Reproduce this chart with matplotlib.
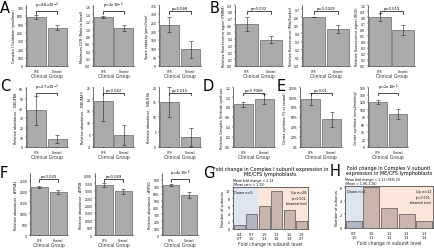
import matplotlib.pyplot as plt
import numpy as np

groups = ["CFS", "Control"]

# panel A
a1_mean = [585, 460]; a1_err = [25, 35]
a2_mean = [1.32, 1.02]; a2_err = [0.03, 0.08]
a3_mean = [237, 97]; a3_err = [42, 49]
# panel B
b1_mean = [0.62, 0.39]; b1_err = [0.10, 0.05]
b2_mean = [0.60, 0.46]; b2_err = [0.0, 0.05]
b3_mean = [0.80, 0.59]; b3_err = [0.07, 0.08]
# panel C
c1_mean = [38, 8]; c1_err = [15, 4]
c2_mean = [19, 5]; c2_err = [8, 4]
c3_mean = [15, 3.5]; c3_err = [5, 3]
# panel D
d1_mean = [0.86, 0.96]; d1_err = [0.05, 0.10]
# panel E
e1_mean = [96, 56]; e1_err = [12, 15]
e2_mean = [120, 88]; e2_err = [6, 13]
# panel F
f1_mean = [2215, 1985]; f1_err = [60, 80]
f2_mean = [3400, 2950]; f2_err = [150, 150]
f3_mean = [725, 578]; f3_err = [10, 40]

# panel G / H histograms
g_counts = [1, 4, 6, 10, 5, 2]
g_labels = ["0.4\n0.7", "0.7\n1.0", "1.0\n1.3", "1.3\n1.6", "1.6\n1.9", "1.9\n2.7"]
h_counts = [1, 6, 3, 2, 1]
h_labels = ["0.9\n1.0", "1.0\n1.1", "1.1\n1.2", "1.2\n1.3", "1.3\n1.4"]

W, H = 435, 253
fig = plt.figure(figsize=(W / 100, H / 100), dpi=100)

def box(x0, x1, y0, y1):
    return [x0 / W, 1 - y1 / H, (x1 - x0) / W, (y1 - y0) / H]

def bar_panel(rect, mean, err, ymax, ticks, ylabel, ptext, fmt=None):
    ax = fig.add_axes(rect)
    ax.bar([0, 1], mean, width=0.94, color="#ababab", edgecolor="#666666", linewidth=0.5)
    ax.errorbar([0, 1], mean, yerr=err, fmt="none", ecolor="#222222", elinewidth=0.4, capsize=1.2, capthick=0.4)
    ax.set_xlim(-0.5, 1.5)
    ax.set_ylim(0, ymax)
    ax.set_yticks(ticks)
    if fmt:
        ax.set_yticklabels([fmt(t) for t in ticks])
    ax.set_xticks([0, 1])
    ax.set_xticklabels(groups)
    ax.tick_params(labelsize=2.2, length=1, width=0.3, pad=1)
    for s in ["top", "right"]:
        ax.spines[s].set_visible(False)
    for s in ["left", "bottom"]:
        ax.spines[s].set_linewidth(0.4)
    ax.set_ylabel(ylabel, fontsize=2.4, labelpad=1)
    ax.set_xlabel("Clinical Group", fontsize=3.3, labelpad=0.5, color="#333333")
    yb = ymax * 0.9
    ax.plot([0, 0, 1, 1], [yb - ymax * 0.04, yb, yb, yb - ymax * 0.04], color="k", lw=0.5)
    ax.text(0.5, yb + ymax * 0.02, ptext, ha="center", va="bottom", fontsize=2.7)
    return ax

pct = lambda t: f"{int(t)}%"

# row 1
bar_panel(box(26, 68, 6, 67), a1_mean, a1_err, 730, range(0, 701, 100),
          "Complex I Oxidation (pmol/min)", "p=4.8x10$^{-4}$")
bar_panel(box(93, 134, 6, 67), a2_mean, a2_err, 1.65, np.arange(0, 1.61, 0.2).round(1),
          "Maximum OCR (Ratio to basal)", "p=2x10$^{-5}$")
bar_panel(box(159, 201, 6, 67), a3_mean, a3_err, 350, range(0, 351, 50),
          "Spare capacity (pmol/min)", "p=0.048")
bar_panel(box(235, 283, 6, 67), b1_mean, b1_err, 0.9, np.arange(0, 0.91, 0.1).round(1),
          "Relative fluorescence signal (TMRM)", "p=0.002")
bar_panel(box(302, 350, 6, 67), b2_mean, b2_err, 0.75, np.arange(0, 0.71, 0.1).round(1),
          "Relative fluorescence (MitoTracker)", "p=0.0029")
bar_panel(box(368, 415, 6, 67), b3_mean, b3_err, 1.0, np.arange(0, 1.01, 0.1).round(1),
          "Relative fluorescence signal (ROS)", "p=0.019")

# row 2
bar_panel(box(26, 68, 88, 148), c1_mean, c1_err, 62, range(0, 61, 10),
          "Relative abundance - NDUFB8", "p=2.7x10$^{-2}$")
bar_panel(box(93, 134, 88, 148), c2_mean, c2_err, 25, range(0, 26, 5),
          "Relative abundance - NDUFAF3", "p=0.042")
bar_panel(box(159, 201, 88, 148), c3_mean, c3_err, 20, range(0, 21, 5),
          "Relative abundance - NDUFS6", "p=0.015")
bar_panel(box(233, 275, 88, 148), d1_mean, d1_err, 1.2, np.arange(0, 1.21, 0.2).round(1),
          "Relative Complex V/citrate synthase", "p=0.7068")
bar_panel(box(300, 342, 88, 148), e1_mean, e1_err, 120, range(0, 121, 20),
          "Citrate synthase (% of control)", "p=0.01", fmt=pct)
bar_panel(box(368, 408, 88, 148), e2_mean, e2_err, 160, range(0, 161, 20),
          "Citrate synthase (nmol/min/mg)", "p=2x10$^{-5}$")

# row 3
bar_panel(box(30, 68, 174, 236), f1_mean, f1_err, 2850, range(0, 2501, 500),
          "Relative abundance - ATP5A1", "p=0.020")
bar_panel(box(95, 133, 174, 236), f2_mean, f2_err, 4200, range(0, 4001, 500),
          "Relative abundance - ATP5B", "p=0.049")
bar_panel(box(162, 198, 174, 236), f3_mean, f3_err, 900, range(0, 801, 100),
          "Relative abundance - ATP5O", "p=4x10$^{-5}$")

def hist_panel(rect, counts, labels, split, ymax, title, note, down, up):
    ax = fig.add_axes(rect)
    x = np.arange(len(counts))
    ax.axvspan(-0.5, split, color="#dfe4f2", zorder=0)
    ax.axvspan(split, len(counts) - 0.5, color="#fbe7da", zorder=0)
    cols = ["#b4b4c4" if i < split else "#c9b5ab" for i in x]
    ax.bar(x, counts, width=0.9, color=cols, edgecolor="#555555", linewidth=0.5, zorder=2)
    ax.set_xlim(-0.5, len(counts) - 0.5)
    ax.set_ylim(0, ymax)
    ax.set_xticks(x)
    ax.set_xticklabels(labels)
    ax.tick_params(labelsize=2.4, length=1, width=0.3, pad=1)
    for s in ax.spines.values():
        s.set_linewidth(0.4)
    ax.set_ylabel("Number of subunits", fontsize=2.6, labelpad=1)
    ax.set_xlabel("Fold change in subunit level", fontsize=3.3, labelpad=0.5, color="#333333")
    ax.text(-0.4, ymax * 0.93, down, fontsize=2.5, va="top")
    ax.text(len(counts) - 0.6, ymax * 0.93, up, fontsize=2.5, va="top", ha="right")
    ax.text(len(counts) - 0.6, ymax * 0.78, "(p<0.001,\nbinomial test)", fontsize=2.2,
            va="top", ha="right")
    ax.text(-0.5, ymax * 1.02, note, fontsize=2.3, va="bottom", linespacing=1.1)
    ax.set_title(title, fontsize=3.5, pad=8.5, linespacing=1.0)
    return ax

hist_panel(box(233, 308, 188, 230), g_counts, g_labels, 1.5, 11,
           "Fold change in Complex I subunit expression in\nME/CFS lymphoblasts",
           "Mean fold change = 1.13\n(Mean ratio = 1.13)", "Down n=5", "Up n=28")
hist_panel(box(345, 433, 187, 229), h_counts, h_labels, 0.5, 6.2,
           "Fold change in Complex V subunit\nexpression in ME/CFS lymphoblasts",
           "Mean fold change = 1.11 (95% CI)\n(Mean = 1.06-1.16)",
           "Down n=1", "Up n=12")

# panel letters
for lab, x, y in [("A", 0, 1), ("B", 210, 1), ("C", 0, 79), ("D", 203, 79),
                  ("E", 277, 79), ("F", 0, 166), ("G", 203, 166), ("H", 330, 164)]:
    fig.text(x / W, 1 - y / H, lab, fontsize=10.5, va="top", ha="left")

fig.savefig("out.png", dpi=100)
